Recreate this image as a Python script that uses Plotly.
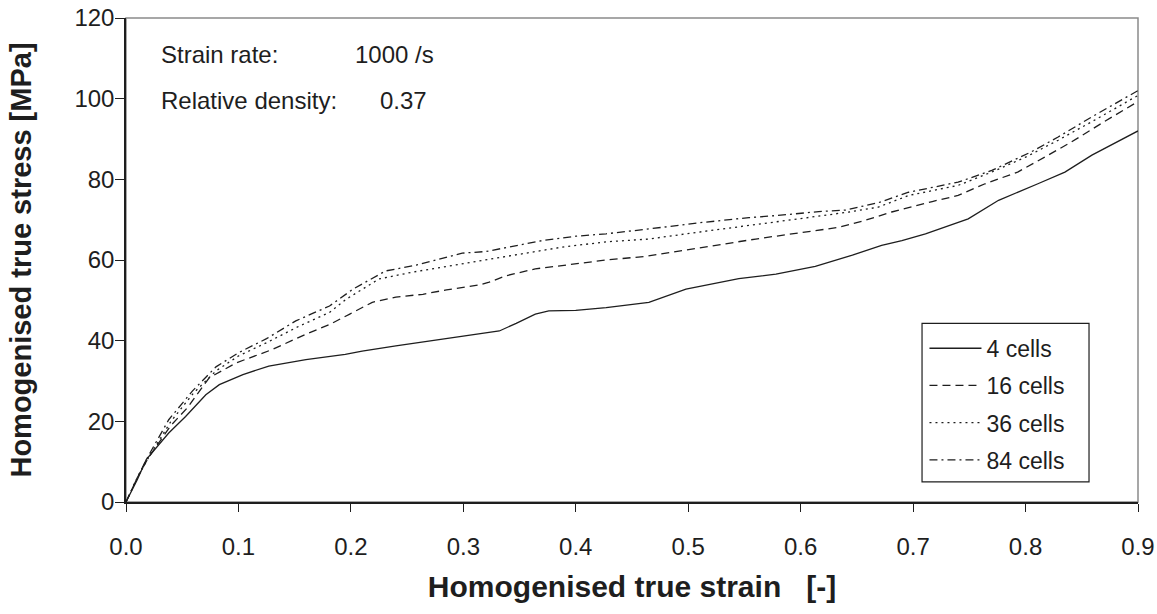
import plotly.graph_objects as go

# ---- data ----
strain_4 = [0, 0.01, 0.018, 0.038, 0.053, 0.071, 0.083, 0.104, 0.127, 0.16, 0.195, 0.21, 0.24, 0.27,
            0.305, 0.332, 0.347, 0.364, 0.376, 0.40, 0.427, 0.465, 0.498, 0.545, 0.578, 0.613, 0.646,
            0.672, 0.69, 0.711, 0.749, 0.776, 0.811, 0.835, 0.859, 0.9]
stress_4 = [0, 5.5, 10.5, 17.1, 21.2, 26.6, 29.1, 31.6, 33.7, 35.3, 36.6, 37.4, 38.7, 39.9,
            41.3, 42.4, 44.3, 46.6, 47.4, 47.5, 48.2, 49.5, 52.8, 55.4, 56.5, 58.4, 61.2,
            63.6, 64.8, 66.5, 70.2, 74.8, 78.9, 81.8, 86.0, 92.0]

strain_16 = [0, 0.01, 0.02, 0.04, 0.055, 0.074, 0.098, 0.13, 0.16, 0.181, 0.199, 0.219, 0.24, 0.264,
             0.285, 0.314, 0.323, 0.338, 0.364, 0.388, 0.427, 0.462, 0.50, 0.524, 0.56, 0.598, 0.634,
             0.657, 0.681, 0.717, 0.74, 0.764, 0.793, 0.817, 0.841, 0.87, 0.9]
stress_16 = [0, 6, 11, 19, 23.5, 30.8, 34.5, 37.8, 41.6, 44.0, 46.6, 49.5, 50.8, 51.5,
             52.6, 53.8, 54.5, 56.1, 57.8, 58.7, 60.0, 60.9, 62.6, 63.7, 65.2, 66.7, 68.1,
             69.8, 71.9, 74.5, 76.0, 78.9, 81.8, 85.5, 89.3, 94.3, 99.3]

strain_36 = [0, 0.01, 0.02, 0.04, 0.06, 0.08, 0.1, 0.125, 0.154, 0.181, 0.196, 0.225, 0.255, 0.299,
             0.344, 0.388, 0.427, 0.465, 0.509, 0.554, 0.598, 0.643, 0.669, 0.696, 0.74, 0.77, 0.80,
             0.829, 0.859, 0.9]
stress_36 = [0, 6, 11, 20, 27, 32.5, 36.2, 39.5, 43.6, 47.0, 50.3, 55.3, 57.0, 59.0,
             61.1, 63.2, 64.5, 65.2, 66.9, 68.5, 70.2, 71.9, 73.1, 76.0, 78.5, 81.8, 85.5,
             89.7, 94.3, 100.8]

strain_84 = [0, 0.01, 0.02, 0.038, 0.059, 0.08, 0.1, 0.125, 0.151, 0.181, 0.202, 0.231, 0.258, 0.279,
             0.299, 0.32, 0.341, 0.37, 0.40, 0.427, 0.465, 0.509, 0.554, 0.578, 0.616, 0.64, 0.669,
             0.696, 0.74, 0.77, 0.805, 0.829, 0.859, 0.9]
stress_84 = [0, 6, 11.5, 20.4, 27.5, 33.5, 37.0, 40.5, 44.9, 48.6, 52.8, 57.3, 58.7, 60.2,
             61.7, 62.1, 63.2, 64.8, 65.9, 66.5, 67.7, 69.2, 70.5, 71.0, 72.0, 72.4, 74.2,
             76.8, 79.3, 82.2, 86.8, 90.5, 95.5, 102.0]

series_names = ["4 cells", "16 cells", "36 cells", "84 cells"]
x_ticks = [0.0, 0.1, 0.2, 0.3, 0.4, 0.5, 0.6, 0.7, 0.8, 0.9]
y_ticks = [0, 20, 40, 60, 80, 100, 120]

FONT = "Liberation Sans, Arial, sans-serif"
INK = "#1e1e1e"

fig = go.Figure()
dashes = ["solid", "8px,5px", "2px,4px", "8px,4px,2px,4px"]
xs = [strain_4, strain_16, strain_36, strain_84]
ys = [stress_4, stress_16, stress_36, stress_84]
for i, (name, x, y, d) in enumerate(zip(series_names, xs, ys, dashes)):
    fig.add_trace(go.Scatter(
        x=x, y=y, mode="lines", name=name, legendgroup=f"g{i}",
        line=dict(color=INK, width=1.3, dash=d),
    ))

ann_font = dict(family=FONT, size=24, color=INK)
fig.add_annotation(x=0.029, y=111, xref="x", yref="y", text="Strain rate:",
                   showarrow=False, xanchor="left", yanchor="middle", font=ann_font)
fig.add_annotation(x=0.202, y=111, xref="x", yref="y", text="1000 /s",
                   showarrow=False, xanchor="left", yanchor="middle", font=ann_font)
fig.add_annotation(x=0.029, y=99.5, xref="x", yref="y", text="Relative density:",
                   showarrow=False, xanchor="left", yanchor="middle", font=ann_font)
fig.add_annotation(x=0.224, y=99.5, xref="x", yref="y", text="0.37",
                   showarrow=False, xanchor="left", yanchor="middle", font=ann_font)

# gray frame on top/right
fig.add_shape(type="rect", xref="paper", yref="paper", x0=0, y0=0, x1=1, y1=1,
              line=dict(color="#8a8a8a", width=1.5), layer="below")
# legend box
fig.add_shape(type="rect", xref="paper", yref="paper", x0=0.7866, y0=0.0415, x1=0.9516, y1=0.369,
              line=dict(color=INK, width=1.2), fillcolor="white", layer="below")

fig.update_layout(
    width=1157, height=614,
    margin=dict(l=126, r=19, t=18, b=112),
    paper_bgcolor="white", plot_bgcolor="white",
    font=dict(family=FONT, size=24, color=INK),
    showlegend=True,
    legend=dict(x=0.789, y=0.362, xanchor="left", yanchor="top",
                bgcolor="rgba(0,0,0,0)", borderwidth=0, itemwidth=52,
                font=dict(family=FONT, size=23, color=INK),
                tracegroupgap=4.3),
    xaxis=dict(range=[0, 0.9], tickvals=x_ticks, tickformat=".1f", automargin=False,
               showgrid=False, zeroline=False, showline=True, linecolor=INK, linewidth=1.5,
               ticks="outside", ticklen=8, tickwidth=1.3, tickcolor=INK,
               ticklabelstandoff=14,
               title=dict(text="<b>Homogenised true strain   [-]</b>", standoff=17,
                          font=dict(family=FONT, size=30, color=INK))),
    yaxis=dict(range=[0, 120], tickvals=y_ticks, automargin=False,
               showgrid=False, zeroline=False, showline=True, linecolor=INK, linewidth=1.5,
               ticks="outside", ticklen=9, tickwidth=1.3, tickcolor=INK,
               ticklabelstandoff=-4,
               title=dict(text="<b>Homogenised true stress [MPa]</b>", standoff=34,
                          font=dict(family=FONT, size=29, color=INK))),
)

fig.write_html("out.html")
